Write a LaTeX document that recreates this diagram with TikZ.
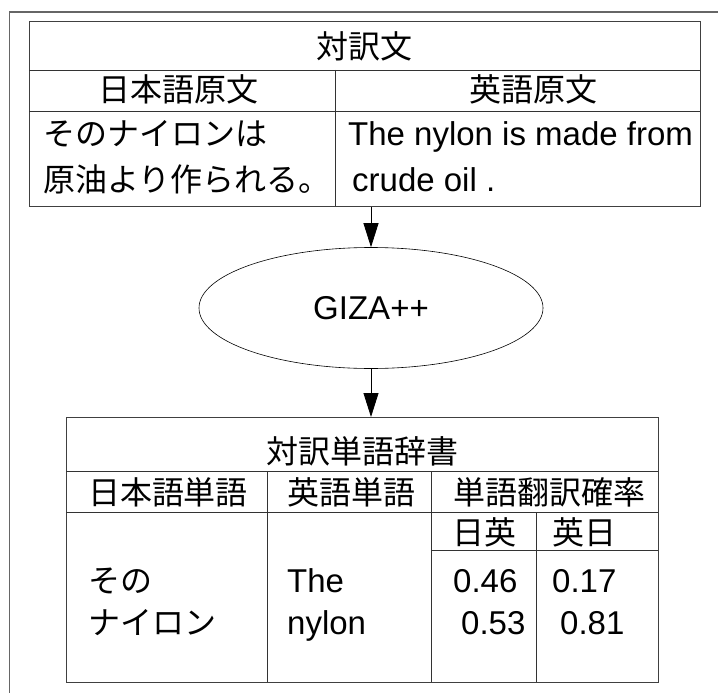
\documentclass[tikz,border=0pt]{standalone}
\usepackage{fontspec}
\setmainfont{Liberation Sans}
\newfontfamily\jpfont{Noto Sans CJK JP}
\usetikzlibrary{shapes.geometric,arrows.meta}

\begin{document}
\begin{tikzpicture}[x=1pt,y=-1pt,
    lat/.style={inner sep=0pt,font=\fontsize{33}{40}\selectfont},
    jp/.style={inner sep=0pt,font=\jpfont\fontsize{32}{40}\selectfont},
    tablebox/.style={draw=black!75,line width=1pt,inner sep=0pt,anchor=north west},
    rule/.style={draw=black!80,line width=0.8pt},
    flow/.style={line width=0.8pt,-{Triangle[length=24pt,width=15pt]}}]
    \useasboundingbox (0,0) rectangle (718,693);
    \draw[black!60,line width=1.2pt] (9.5,693) -- (9.5,12) -- (718,12);

    % parallel corpus
    \node[tablebox,minimum width=671pt,minimum height=185pt] (pairtab) at (29,21) {};
    \draw[rule] (29,70) -- (700,70);
    \draw[rule] (29,111) -- (700,111);
    \draw[rule] (335,70) -- (335,206);
    \node[jp,anchor=base] (pairtitle) at (364,59) {対訳文};
    \node[jp,anchor=base] (jasrc) at (178,102) {日本語原文};
    \node[jp,anchor=base] (ensrc) at (533,102) {英語原文};
    \node[jp,anchor=base west] (jaline1) at (43,145) {そのナイロンは};
    \node[jp,anchor=base west] (jaline2) at (43,191) {原油より作られる。};
    \node[lat,anchor=base west] (enline1) at (348,145) {The nylon is made from};
    \node[lat,anchor=base west] (enline2) at (352,191) {crude oil .};

    \node[draw,ellipse,line width=0.6pt,minimum width=344pt,minimum height=121pt,
          lat] (giza) at (371,308) {GIZA++};

    % word dictionary
    \node[tablebox,minimum width=592pt,minimum height=265pt] (dicttab) at (66,417) {};
    \draw[rule] (66,471) -- (658,471);
    \draw[rule] (66,512) -- (658,512);
    \draw[rule] (431,550) -- (658,550);
    \draw[rule] (267,471) -- (267,682);
    \draw[rule] (431,471) -- (431,682);
    \draw[rule] (536,512) -- (536,682);
    \node[jp,anchor=base] (dicttitle) at (362,463) {対訳単語辞書};
    \node[jp,anchor=base] (jaword) at (168,504) {日本語単語};
    \node[jp,anchor=base] (enword) at (351,504) {英語単語};
    \node[jp,anchor=base west] (prob) at (453,504) {単語翻訳確率};
    \node[jp,anchor=base] (jaen) at (484,544) {日英};
    \node[jp,anchor=base] (enja) at (584,544) {英日};
    \node[jp,anchor=base west] (sono) at (88,592) {その};
    \node[jp,anchor=base west] (nairon) at (88,634) {ナイロン};
    \node[lat,anchor=base west] (the) at (287,592) {The};
    \node[lat,anchor=base west] (nylon) at (287,634) {nylon};
    \node[lat,anchor=base west] (pa) at (453,592) {0.46};
    \node[lat,anchor=base west] (pb) at (461,634) {0.53};
    \node[lat,anchor=base west] (pc) at (552,592) {0.17};
    \node[lat,anchor=base west] (pd) at (560,634) {0.81};

    \draw[flow] (giza.north |- pairtab.south) -- (giza.north);
    \draw[flow] (giza.south) -- (giza.south |- dicttab.north);
\end{tikzpicture}
\end{document}
